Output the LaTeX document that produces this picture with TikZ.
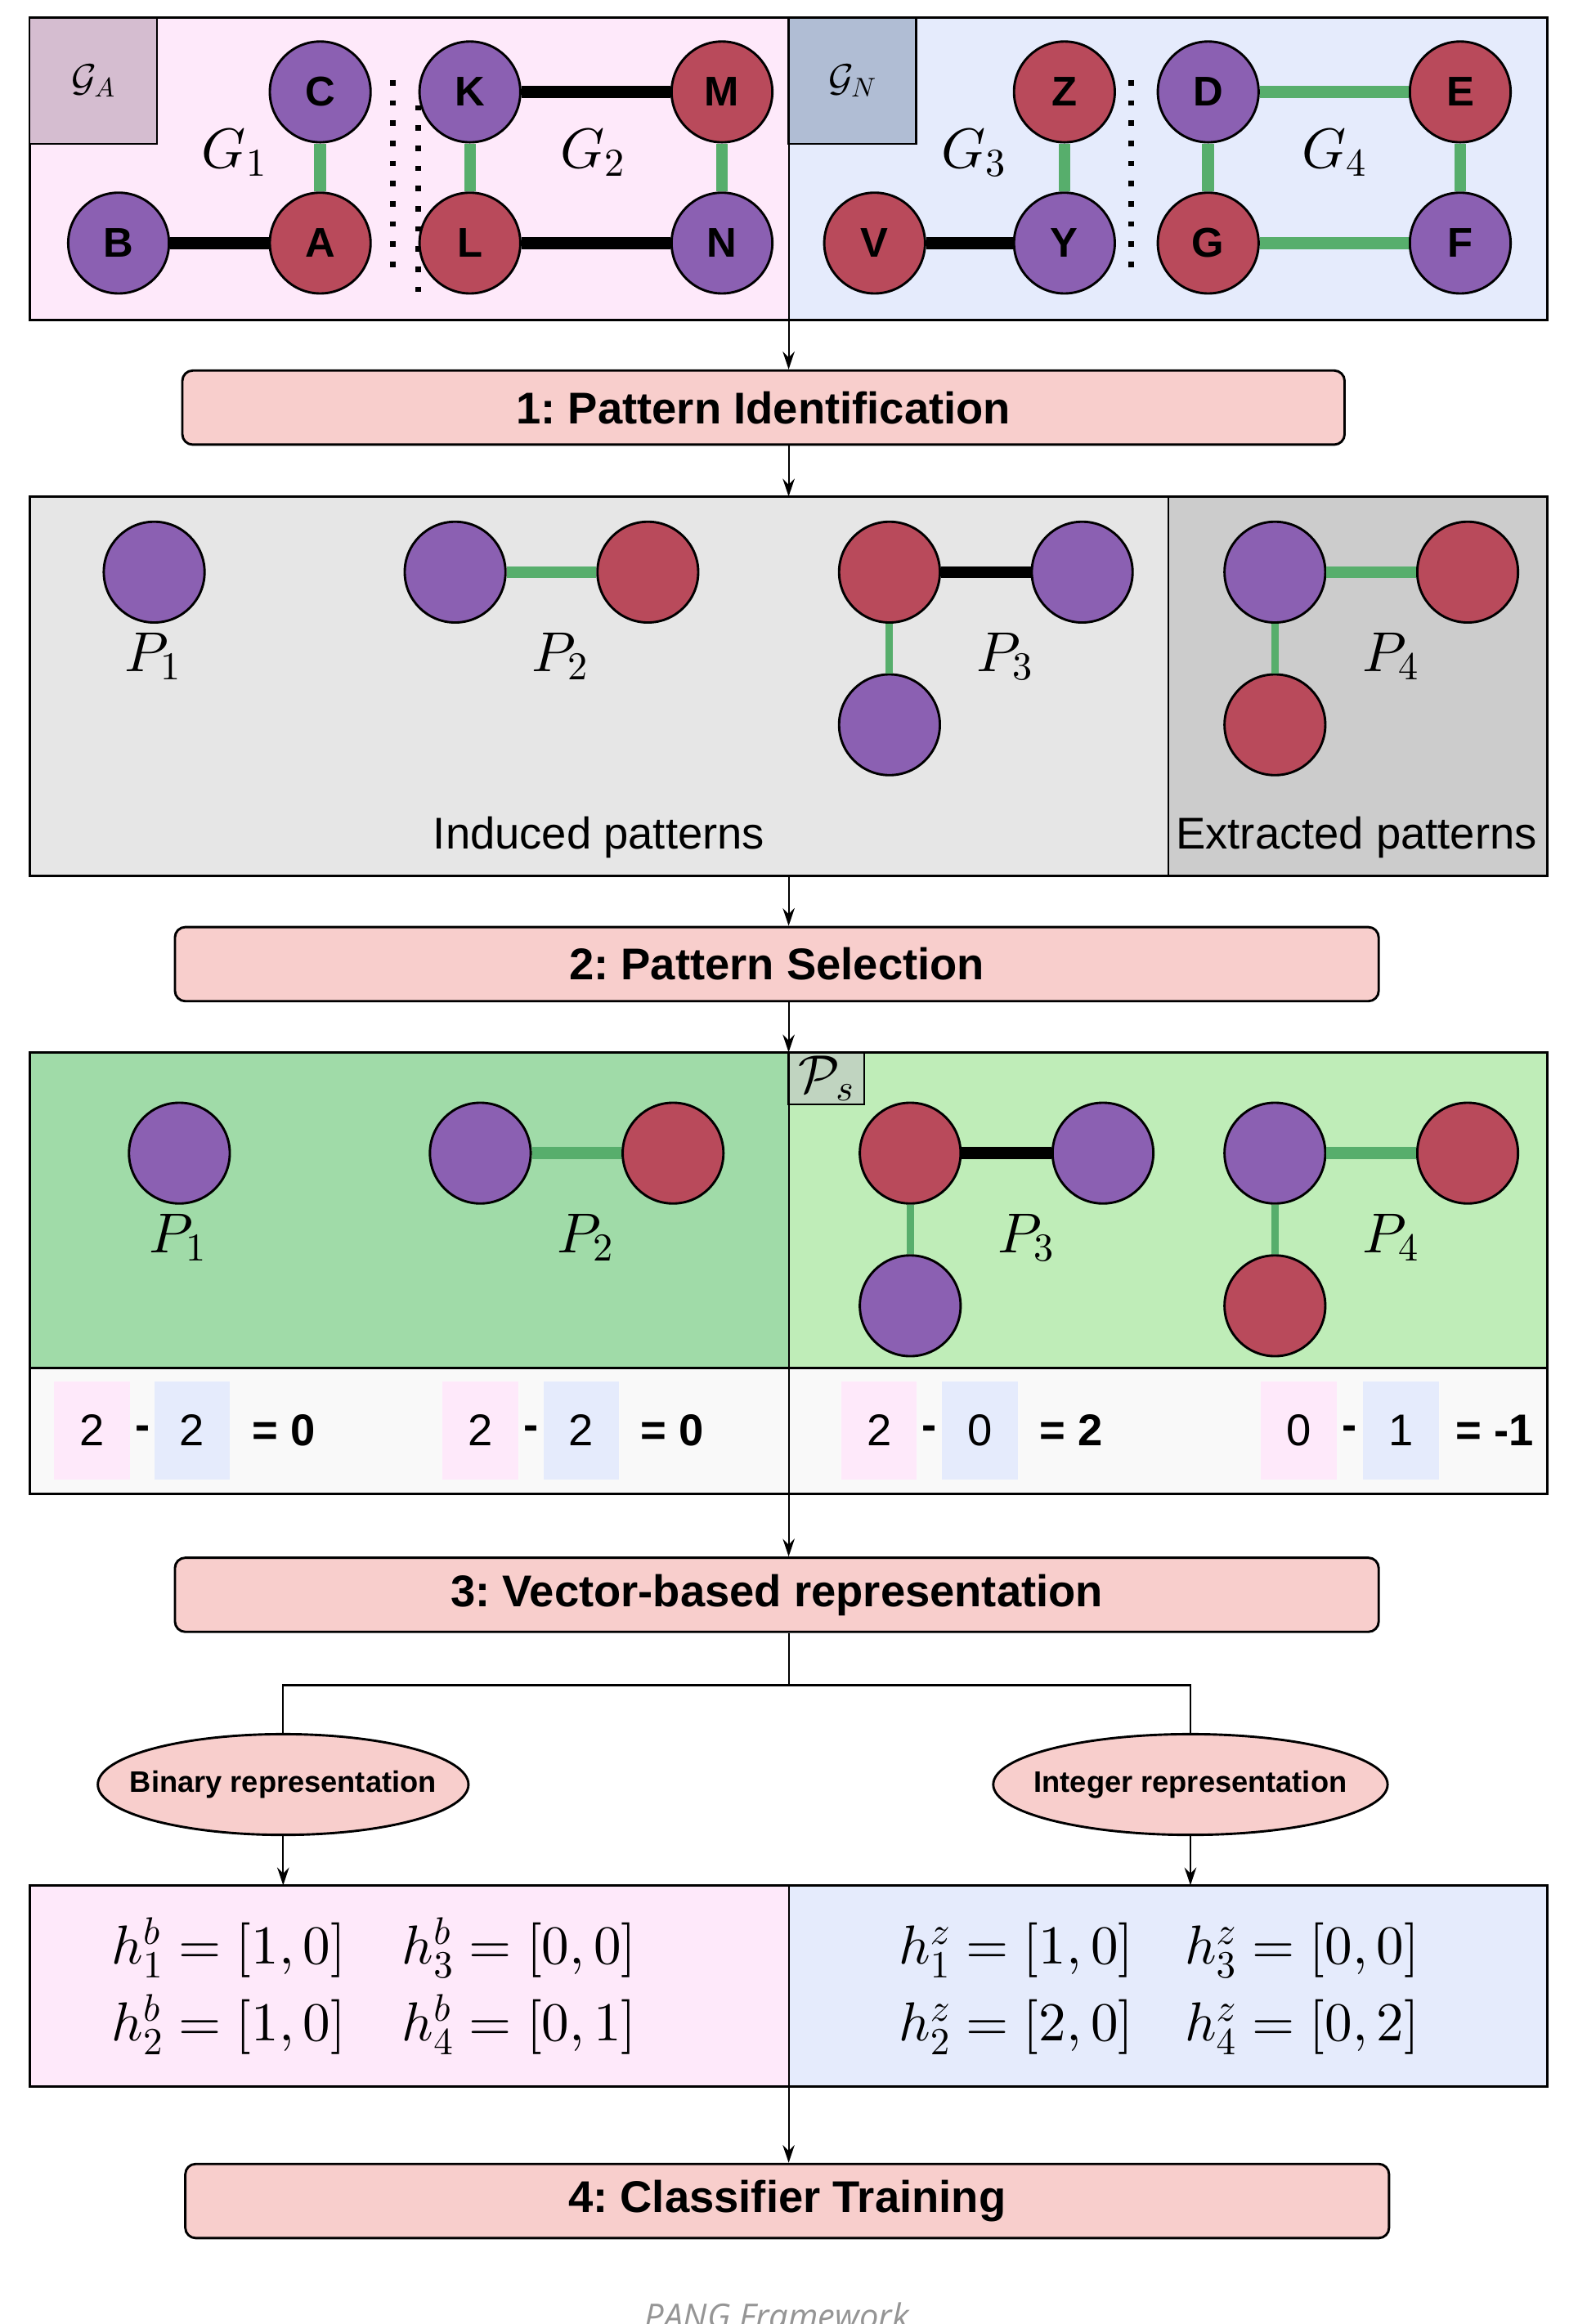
\documentclass[tikz,border=0pt]{standalone}
\usepackage[no-math]{fontspec}
\setmainfont{Liberation Sans}
\newfontfamily\capfont{Open Sans}
\DeclareFontShape{OML}{cmm}{m}{it}{<->cmmi10}{}
\DeclareFontShape{OMS}{cmsy}{m}{n}{<->cmsy10}{}
\DeclareFontShape{OT1}{cmr}{m}{n}{<->cmr10}{}
\DeclareFontShape{OMX}{cmex}{m}{n}{<->cmex10}{}
\usetikzlibrary{arrows.meta,shapes.geometric}
\definecolor{pinkbg}{HTML}{FEE9FA}
\definecolor{bluebg}{HTML}{E5EBFC}
\definecolor{labA}{HTML}{D5BDD0}
\definecolor{labN}{HTML}{B0BDD4}
\definecolor{vpurple}{HTML}{8B60B2}
\definecolor{vred}{HTML}{B94A5B}
\definecolor{egreen}{HTML}{57AE6C}
\definecolor{stepfill}{HTML}{F8CECC}
\definecolor{greyA}{HTML}{E6E6E6}
\definecolor{greyB}{HTML}{CCCCCC}
\definecolor{greenA}{HTML}{A0DBA8}
\definecolor{greenB}{HTML}{BFEDB8}
\definecolor{psfill}{HTML}{C0D4C0}
\definecolor{countbg}{HTML}{F9F9F9}
\definecolor{capgray}{HTML}{959595}
\frenchspacing
\begin{document}
\begin{tikzpicture}[x=1pt,y=-1pt,
  vert/.style={circle, draw=black, line width=1.6pt, minimum size=68pt, inner sep=0pt, font=\fontsize{28}{30}\selectfont\bfseries},
  pu/.style={vert, fill=vpurple},
  rd/.style={vert, fill=vred},
  blk/.style={line width=8pt, black},
  grn/.style={line width=8pt, egreen},
  grnthin/.style={line width=5pt, egreen},
  arr/.style={line width=1.2pt, -{Stealth[length=12pt,width=8pt,inset=4pt]}},
  plain/.style={line width=1.2pt},
  stepbox/.style={draw, line width=1.6pt, rounded corners=7pt, fill=stepfill, minimum height=50pt, inner sep=0pt, font=\fontsize{30}{32}\selectfont\bfseries},
  area/.style={anchor=north west, inner sep=0pt, outer sep=0pt},
  frame/.style={area, draw, line width=1.6pt},
  divider/.style={line width=1pt},
  dots/.style={line width=3.7pt, dash pattern=on 3.7pt off 9.9pt},
  glabel/.style={font=\fontsize{38}{40}\selectfont, inner sep=0pt},
  plabel/.style={font=\fontsize{38}{40}\selectfont, inner sep=0pt},
  txt/.style={font=\fontsize{30}{32}\selectfont, inner sep=0pt},
  cnt/.style={minimum width=51pt, minimum height=66pt, inner sep=0pt, font=\fontsize{30}{32}\selectfont},
  res/.style={anchor=west, inner sep=0pt, font=\fontsize{30}{32}\selectfont\bfseries},
  minus/.style={inner sep=0pt, font=\fontsize{30}{32}\selectfont\bfseries},
  repell/.style={ellipse, draw, line width=1.6pt, fill=stepfill, minimum height=68pt, inner xsep=-18pt, inner ysep=0pt, font=\fontsize{20}{22}\selectfont\bfseries},
  formula/.style={anchor=base west, inner sep=0pt, font=\fontsize{37}{40}\selectfont}
]
\useasboundingbox (0,0) rectangle (1064,1568);

% ---------------- top panel ----------------
\node[area, fill=pinkbg, minimum width=512pt, minimum height=204pt] (gA) at (20,12) {};
\node[area, fill=bluebg, minimum width=512pt, minimum height=204pt] (gN) at (532,12) {};
\draw[divider] (gA.north east) -- (gA.south east);
\node[frame, minimum width=1024pt, minimum height=204pt] (top) at (20,12) {};
\node[frame, line width=1.3pt, fill=labA, minimum width=86pt, minimum height=85pt, font=\fontsize{26}{28}\selectfont] (labA) at (20,12) {$\mathcal{G}_A$};
\node[frame, line width=1.3pt, fill=labN, minimum width=86pt, minimum height=85pt, font=\fontsize{26}{28}\selectfont] (labN) at (532,12) {$\mathcal{G}_N$};

\draw[dots] (265,54) -- (265,181);
\draw[dots] (282,71) -- (282,198);
\draw[dots] (763,54) -- (763,181);

\node[pu] (C) at (216,62) {C};
\node[rd] (A) at (216,164) {A};
\node[pu] (B) at (80,164) {B};
\node[pu] (K) at (317,62) {K};
\node[rd] (L) at (317,164) {L};
\node[rd] (M) at (487,62) {M};
\node[pu] (N) at (487,164) {N};
\node[rd] (Z) at (718,62) {Z};
\node[pu] (Y) at (718,164) {Y};
\node[rd] (V) at (590,164) {V};
\node[pu] (D) at (815,62) {D};
\node[rd] (G) at (815,164) {G};
\node[rd] (E) at (985,62) {E};
\node[pu] (F) at (985,164) {F};

\draw[blk] (B) -- (A);
\draw[grn] (C) -- (A);
\draw[blk] (K) -- (M);
\draw[grn] (K) -- (L);
\draw[grn] (M) -- (N);
\draw[blk] (L) -- (N);
\draw[blk] (V) -- (Y);
\draw[grn] (Z) -- (Y);
\draw[grn] (D) -- (E);
\draw[grn] (D) -- (G);
\draw[grn] (E) -- (F);
\draw[grn] (G) -- (F);

\node[glabel] (G1) at (158,103) {$G_1$};
\node[glabel] (G2) at (400,103) {$G_2$};
\node[glabel] (G3) at (657,103) {$G_3$};
\node[glabel] (G4) at (900,103) {$G_4$};

% ---------------- step 1 ----------------
\node[stepbox, minimum width=784pt] (s1) at (515,275) {1: Pattern Identification};
\draw[arr] (top.south) -- (top.south |- s1.north);

% ---------------- patterns panel ----------------
\node[area, fill=greyA, minimum width=768pt, minimum height=256pt] (ind) at (20,335) {};
\node[area, fill=greyB, draw, line width=1pt, minimum width=256pt, minimum height=256pt] (ext) at (788,335) {};
\node[frame, minimum width=1024pt, minimum height=256pt] (pat) at (20,335) {};
\draw[arr] (s1.south -| pat.north) -- (pat.north);

\node[pu] (p1a) at (104,386) {};
\node[pu] (p2a) at (307,386) {};
\node[rd] (p2b) at (437,386) {};
\node[rd] (p3a) at (600,386) {};
\node[pu] (p3b) at (730,386) {};
\node[pu] (p3c) at (600,489) {};
\node[pu] (p4a) at (860,386) {};
\node[rd] (p4b) at (990,386) {};
\node[rd] (p4c) at (860,489) {};
\draw[grn] (p2a) -- (p2b);
\draw[blk] (p3a) -- (p3b);
\draw[grnthin] (p3a) -- (p3c);
\draw[grn] (p4a) -- (p4b);
\draw[grnthin] (p4a) -- (p4c);

\node[plabel] (lp1) at (103,443) {$P_1$};
\node[plabel] (lp2) at (378,443) {$P_2$};
\node[plabel] (lp3) at (678,443) {$P_3$};
\node[plabel] (lp4) at (938,443) {$P_4$};
\node[txt] (indt) at (404,565) {Induced patterns};
\node[txt] (extt) at (915,565) {Extracted patterns};

% ---------------- step 2 ----------------
\node[stepbox, minimum width=812pt] (s2) at (524,650.5) {2: Pattern Selection};
\draw[arr] (pat.south) -- (pat.south |- s2.north);

% ---------------- selection panel ----------------
\node[area, fill=greenA, minimum width=512pt, minimum height=213pt] (selL) at (20,710) {};
\node[area, fill=greenB, minimum width=512pt, minimum height=213pt] (selR) at (532,710) {};
\node[area, fill=countbg, draw, line width=1.6pt, minimum width=1024pt, minimum height=85pt] (cntp) at (20,923) {};
\draw[divider] (selL.north east) -- (cntp.south);
\node[frame, minimum width=1024pt, minimum height=298pt] (sel) at (20,710) {};
\draw[arr] (s2.south -| sel.north) -- (sel.north);
\node[frame, line width=1.3pt, fill=psfill, minimum width=51pt, minimum height=35pt, font=\fontsize{36}{38}\selectfont] (ps) at (532,710) {$\mathcal{P}_s$};

\node[pu] (q1a) at (121,778) {};
\node[pu] (q2a) at (324,778) {};
\node[rd] (q2b) at (454,778) {};
\node[rd] (q3a) at (614,778) {};
\node[pu] (q3b) at (744,778) {};
\node[pu] (q3c) at (614,881) {};
\node[pu] (q4a) at (860,778) {};
\node[rd] (q4b) at (990,778) {};
\node[rd] (q4c) at (860,881) {};
\draw[grn] (q2a) -- (q2b);
\draw[blk] (q3a) -- (q3b);
\draw[grnthin] (q3a) -- (q3c);
\draw[grn] (q4a) -- (q4b);
\draw[grnthin] (q4a) -- (q4c);

\node[plabel] (lq1) at (120,835) {$P_1$};
\node[plabel] (lq2) at (395,835) {$P_2$};
\node[plabel] (lq3) at (692,835) {$P_3$};
\node[plabel] (lq4) at (938,835) {$P_4$};

% counts
\node[cnt, fill=pinkbg] (c1a) at (62,965) {2};
\node[minus] (m1) at (96,967) {-};
\node[cnt, fill=bluebg] (c1b) at (129.5,965) {2};
\node[res] (r1) at (170,965) {= 0};

\node[cnt, fill=pinkbg] (c2a) at (324,965) {2};
\node[minus] (m2) at (358,967) {-};
\node[cnt, fill=bluebg] (c2b) at (392,965) {2};
\node[res] (r2) at (432,965) {= 0};

\node[cnt, fill=pinkbg] (c3a) at (593,965) {2};
\node[minus] (m3) at (627,967) {-};
\node[cnt, fill=bluebg] (c3b) at (661,965) {0};
\node[res] (r3) at (701,965) {= 2};

\node[cnt, fill=pinkbg] (c4a) at (876,965) {0};
\node[minus] (m4) at (910.5,967) {-};
\node[cnt, fill=bluebg] (c4b) at (945,965) {1};
\node[res] (r4) at (982,965) {= -1};

% ---------------- step 3 ----------------
\node[stepbox, minimum width=812pt] (s3) at (524,1076) {3: Vector-based representation};
\draw[arr] (sel.south) -- (sel.south |- s3.north);

\node[repell, minimum width=250pt] (bin) at (191,1204) {Binary representation};
\node[repell, minimum width=266pt] (int) at (803,1204) {Integer representation};
\coordinate (split) at (532,1137);
\draw[plain] (s3.south -| sel.south) -- (split);
\draw[plain] (bin.north) |- (split) -| (int.north);

% ---------------- representation panel ----------------
\node[area, fill=pinkbg, minimum width=512pt, minimum height=136pt] (repL) at (20,1272) {};
\node[area, fill=bluebg, minimum width=512pt, minimum height=136pt] (repR) at (532,1272) {};
\draw[divider] (repL.north east) -- (repL.south east);
\node[frame, minimum width=1024pt, minimum height=136pt] (rep) at (20,1272) {};
\draw[arr] (bin.south) -- (bin.south |- rep.north);
\draw[arr] (int.south) -- (int.south |- rep.north);

\node[formula] (hb1) at (75,1325) {$h_1^b=[1,0]$};
\node[formula] (hb3) at (271,1325) {$h_3^b=[0,0]$};
\node[formula] (hb2) at (75,1377) {$h_2^b=[1,0]$};
\node[formula] (hb4) at (271,1377) {$h_4^b=[0,1]$};
\node[formula] (hz1) at (606,1325) {$h_1^z=[1,0]$};
\node[formula] (hz3) at (799,1325) {$h_3^z=[0,0]$};
\node[formula] (hz2) at (606,1377) {$h_2^z=[2,0]$};
\node[formula] (hz4) at (799,1377) {$h_4^z=[0,2]$};

% ---------------- step 4 ----------------
\node[stepbox, minimum width=812pt] (s4) at (531,1485) {4: Classifier Training};
\draw[arr] (rep.south) -- (rep.south |- s4.north);

\node[anchor=base, inner sep=0pt, text=capgray, font=\capfont\itshape\fontsize{23}{25}\selectfont] (cap) at (524,1571) {PANG Framework};
\end{tikzpicture}
\end{document}
